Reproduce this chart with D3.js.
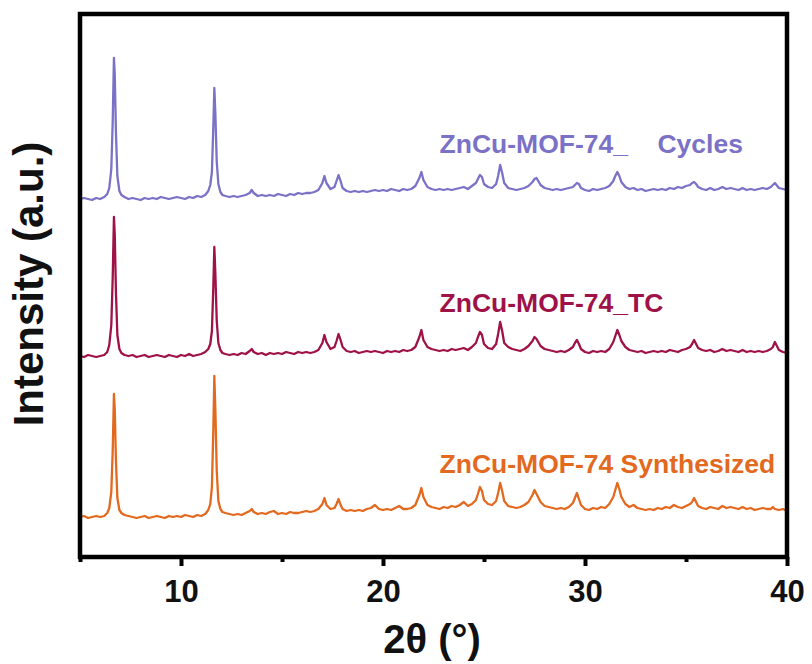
<!DOCTYPE html>
<meta charset="utf-8">
<style>
body { margin: 0; background: #fff; }
svg { font-family: "Liberation Sans", Arial, sans-serif; }
.trace { fill: none; stroke-width: 2.3; stroke-linejoin: round; }
.frame { fill: none; stroke: #000; stroke-width: 4.5; }
.tick line { stroke: #000; stroke-width: 4; }
.tick text { font-size: 31px; font-weight: bold; fill: #111; }
.label { font-size: 26.5px; font-weight: bold; white-space: pre; }
.title { font-weight: bold; fill: #111; }
</style>
<body>
<svg width="812" height="664"></svg>
<script src="https://cdn.jsdelivr.net/npm/d3@7"></script>
<script>

// 2theta sampling positions (deg)
var twoTheta = [
  5.0, 5.2, 5.4, 5.6, 5.8, 6.0, 6.2, 6.35, 6.45, 6.55,
  6.62, 6.68, 6.72, 6.78, 6.85, 6.95, 7.05, 7.2, 7.4, 7.6,
  7.8, 8.0, 8.2, 8.4, 8.6, 8.8, 9.0, 9.2, 9.4, 9.6,
  9.8, 10.0, 10.2, 10.4, 10.6, 10.8, 11.0, 11.2, 11.35, 11.45,
  11.53, 11.6, 11.65, 11.7, 11.77, 11.85, 11.95, 12.05, 12.2, 12.4,
  12.6, 12.8, 13.0, 13.2, 13.4, 13.5, 13.6, 13.8, 14.0, 14.2,
  14.4, 14.6, 14.8, 15.0, 15.2, 15.4, 15.6, 15.8, 16.0, 16.2,
  16.4, 16.6, 16.8, 17.0, 17.1, 17.2, 17.4, 17.6, 17.7, 17.8,
  17.9, 18.0, 18.2, 18.4, 18.6, 18.8, 19.0, 19.2, 19.4, 19.6,
  19.8, 20.0, 20.2, 20.4, 20.6, 20.8, 21.0, 21.2, 21.4, 21.6,
  21.8, 21.9, 22.0, 22.2, 22.4, 22.6, 22.8, 23.0, 23.2, 23.4,
  23.6, 23.8, 24.0, 24.2, 24.4, 24.6, 24.7, 24.8, 24.9, 25.0,
  25.2, 25.4, 25.6, 25.7, 25.8, 25.9, 26.0, 26.2, 26.4, 26.6,
  26.8, 27.0, 27.2, 27.4, 27.5, 27.6, 27.8, 28.0, 28.2, 28.4,
  28.6, 28.8, 29.0, 29.2, 29.4, 29.5, 29.6, 29.7, 29.8, 30.0,
  30.2, 30.4, 30.6, 30.8, 31.0, 31.2, 31.4, 31.5, 31.6, 31.7,
  31.8, 32.0, 32.2, 32.4, 32.6, 32.8, 33.0, 33.2, 33.4, 33.6,
  33.8, 34.0, 34.2, 34.4, 34.6, 34.8, 35.0, 35.2, 35.3, 35.4,
  35.5, 35.6, 35.8, 36.0, 36.2, 36.4, 36.6, 36.8, 37.0, 37.2,
  37.4, 37.6, 37.8, 38.0, 38.2, 38.4, 38.6, 38.8, 39.0, 39.2,
  39.3, 39.4, 39.6, 39.8, 40.0
];

// intensities (a.u.)
var synthesized = [
  40, 41, 39, 40, 41, 40, 41, 44, 49, 65,
  107, 163, 148, 96, 59, 47, 44, 42, 41, 40,
  39, 40, 41, 39, 40, 41, 40, 39, 41, 40,
  41, 40, 42, 41, 40, 42, 41, 43, 47, 53,
  70, 127, 181, 148, 86, 56, 48, 45, 44, 43,
  42, 43, 42, 44, 46, 48, 45, 43, 44, 43,
  45, 46, 43, 44, 43, 45, 44, 44, 45, 46,
  45, 46, 48, 53, 59, 52, 48, 49, 53, 58,
  52, 48, 46, 47, 46, 47, 46, 48, 49, 52,
  48, 47, 48, 47, 49, 51, 48, 48, 49, 52,
  62, 69, 60, 52, 50, 49, 48, 50, 49, 51,
  50, 52, 55, 51, 53, 57, 63, 70, 66, 57,
  53, 52, 56, 64, 74, 66, 56, 51, 50, 49,
  50, 52, 55, 62, 67, 63, 55, 51, 50, 49,
  48, 49, 48, 50, 54, 59, 64, 58, 52, 48,
  47, 49, 48, 50, 49, 53, 60, 67, 74, 68,
  60, 53, 50, 52, 49, 48, 47, 48, 47, 49,
  48, 50, 49, 52, 50, 49, 51, 53, 55, 59,
  55, 51, 49, 48, 50, 49, 48, 51, 49, 50,
  49, 48, 50, 48, 49, 47, 48, 49, 48, 48,
  50, 48, 47, 48, 46
];

var tc = [
  41, 40, 42, 41, 40, 41, 42, 45, 52, 72,
  120, 180, 163, 104, 62, 48, 44, 42, 41, 42,
  40, 41, 42, 40, 41, 42, 41, 40, 42, 41,
  40, 42, 41, 43, 41, 42, 43, 45, 48, 53,
  66, 110, 150, 124, 76, 54, 47, 44, 43, 42,
  43, 42, 44, 43, 46, 48, 45, 43, 44, 42,
  44, 43, 44, 43, 45, 44, 43, 45, 44, 45,
  44, 45, 47, 54, 62, 55, 48, 50, 56, 63,
  57, 50, 46, 45, 46, 44, 45, 46, 45, 46,
  45, 44, 46, 45, 46, 45, 47, 46, 47, 50,
  60, 67, 57, 50, 48, 47, 46, 47, 46, 48,
  47, 48, 49, 47, 50, 54, 60, 65, 62, 53,
  49, 48, 53, 63, 75, 66, 54, 50, 48, 47,
  46, 48, 51, 56, 60, 58, 51, 48, 47, 46,
  45, 46, 45, 47, 50, 54, 57, 53, 48, 45,
  44, 46, 45, 46, 45, 48, 55, 61, 67, 62,
  56, 50, 47, 46, 45, 46, 44, 45, 46, 45,
  46, 45, 47, 46, 45, 47, 48, 50, 53, 57,
  53, 49, 47, 46, 47, 45, 46, 48, 46, 47,
  46, 45, 47, 45, 46, 45, 46, 45, 46, 48,
  50, 55, 47, 45, 44
];

var cycles = [
  40, 41, 40, 39, 41, 40, 42, 45, 51, 70,
  118, 181, 165, 106, 63, 48, 44, 42, 40, 41,
  40, 39, 41, 40, 41, 40, 42, 41, 40, 41,
  42, 41, 40, 42, 41, 43, 42, 44, 48, 54,
  67, 112, 151, 126, 77, 55, 47, 44, 43, 42,
  43, 42, 43, 44, 46, 49, 46, 43, 44, 43,
  44, 43, 45, 44, 43, 45, 44, 46, 45, 46,
  46, 47, 49, 56, 63, 56, 50, 52, 58, 64,
  58, 51, 48, 47, 48, 47, 48, 47, 48, 49,
  48, 49, 48, 50, 49, 48, 50, 49, 50, 53,
  61, 67, 59, 52, 50, 49, 50, 49, 50, 49,
  50, 51, 52, 50, 53, 56, 60, 64, 62, 55,
  52, 51, 55, 63, 74, 66, 56, 51, 50, 49,
  50, 51, 53, 57, 60, 61, 54, 51, 50, 49,
  50, 49, 50, 51, 52, 54, 56, 55, 51, 49,
  48, 50, 49, 50, 51, 53, 58, 63, 67, 63,
  57, 52, 50, 51, 49, 50, 48, 49, 50, 49,
  50, 49, 51, 50, 52, 51, 53, 54, 56, 57,
  55, 52, 50, 49, 51, 49, 50, 52, 50, 51,
  50, 49, 51, 49, 50, 49, 50, 51, 50, 52,
  54, 56, 51, 50, 49
];

var seriesNames = ["ZnCu-MOF-74 Synthesized", "ZnCu-MOF-74_TC", "ZnCu-MOF-74_    Cycles"];
var seriesValues = [synthesized, tc, cycles];
var seriesOffset = [0, 160, 318];   // vertical stacking of the patterns
var seriesColors = ["#e2691e", "#9e1248", "#7b71c6"];
var labelAt = [[22.8, 84], [22.8, 245], [22.8, 404]];  // label anchor in data units
var majorTicks = [10, 20, 30, 40];
var minorTicks = [5, 15, 25, 35];

var svg = d3.select("svg");
var mLeft = 80, mRight = 787, mTop = 14, mBottom = 557;

var x = d3.scaleLinear().domain([5, 40]).range([mLeft, mRight]);
var y = d3.scaleLinear().domain([0, mBottom - mTop]).range([mBottom, mTop]);

var line = d3.line()
    .x(function(d) { return x(d[0]); })
    .y(function(d) { return y(d[1]); });

seriesValues.forEach(function(vals, i) {
  var pts = twoTheta.map(function(t, j) { return [t, vals[j] + seriesOffset[i]]; });
  svg.append("path")
      .datum(pts)
      .attr("class", "trace")
      .attr("stroke", seriesColors[i])
      .attr("d", line);
  svg.append("text")
      .attr("class", "label")
      .attr("x", x(labelAt[i][0]))
      .attr("y", y(labelAt[i][1]))
      .attr("fill", seriesColors[i])
      .text(seriesNames[i]);
});

// minor ticks
svg.append("g")
    .attr("transform", "translate(0," + mBottom + ")")
    .call(d3.axisBottom(x).tickValues(minorTicks).tickSize(5).tickFormat(""))
    .call(function(g) { g.select(".domain").remove(); });

// major ticks
svg.append("g")
    .attr("transform", "translate(0," + mBottom + ")")
    .call(d3.axisBottom(x).tickValues(majorTicks).tickSize(9).tickPadding(14).tickFormat(d3.format("d")))
    .call(function(g) { g.select(".domain").remove(); });

svg.append("rect")
    .attr("class", "frame")
    .attr("x", mLeft)
    .attr("y", mTop)
    .attr("width", mRight - mLeft)
    .attr("height", mBottom - mTop);

svg.append("text")
    .attr("class", "title")
    .attr("x", 432)
    .attr("y", 653)
    .attr("text-anchor", "middle")
    .attr("font-size", "40px")
    .text("2θ (°)");

svg.append("text")
    .attr("class", "title")
    .attr("transform", "translate(43,284) rotate(-90)")
    .attr("text-anchor", "middle")
    .attr("font-size", "42px")
    .text("Intensity (a.u.)");

</script>
</body>
